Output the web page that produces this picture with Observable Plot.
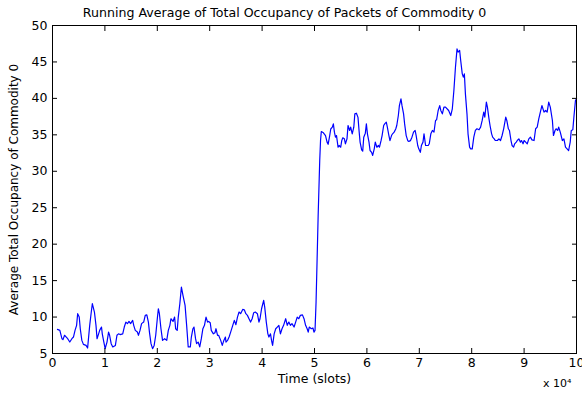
<!DOCTYPE html>
<html>
<head>
<meta charset="utf-8">
<script src="https://cdn.jsdelivr.net/npm/d3@7"></script>
<script src="https://cdn.jsdelivr.net/npm/@observablehq/plot@0.6"></script>
<style>
  html, body { margin: 0; padding: 0; background: #fff; }
</style>
</head>
<body>
<div id="chart"></div>
<script>
const title = "Running Average of Total Occupancy of Packets of Commodity 0";
const xLabel = "Time (slots)";
const yLabel = "Average Total Occupancy of Commodity 0";
const xExponent = "x 10\u2074";
const xTicks = [0, 1, 2, 3, 4, 5, 6, 7, 8, 9, 10];
const yTicks = [5, 10, 15, 20, 25, 30, 35, 40, 45, 50];

// time in units of 10^4 slots
const timeValues = [
  0.095, 0.14, 0.18, 0.20, 0.23, 0.25, 0.29, 0.33, 0.37, 0.40, 0.43, 0.46, 0.48, 0.51, 0.53, 0.56, 0.59, 0.64, 0.67, 0.71,
  0.74, 0.76, 0.80, 0.83, 0.85, 0.88, 0.90, 0.935, 0.95, 0.98, 1.005, 1.04, 1.07, 1.09, 1.12, 1.15, 1.20, 1.23, 1.26, 1.29,
  1.34, 1.37, 1.40, 1.43, 1.46, 1.49, 1.53, 1.55, 1.58, 1.62, 1.64, 1.67, 1.70, 1.74, 1.77, 1.80, 1.83, 1.85, 1.88, 1.91,
  1.94, 1.97, 2.00, 2.02, 2.04, 2.07, 2.10, 2.14, 2.18, 2.21, 2.24, 2.26, 2.30, 2.33, 2.35, 2.38, 2.40, 2.43, 2.46, 2.49,
  2.53, 2.56, 2.59, 2.63, 2.65, 2.68, 2.70, 2.73, 2.75, 2.78, 2.81, 2.84, 2.87, 2.90, 2.93, 2.96, 2.98, 3.01, 3.03, 3.07,
  3.10, 3.12, 3.15, 3.17, 3.21, 3.24, 3.27, 3.30, 3.31, 3.34, 3.37, 3.40, 3.44, 3.47, 3.50, 3.53, 3.56, 3.59, 3.63, 3.66,
  3.69, 3.72, 3.75, 3.78, 3.81, 3.84, 3.87, 3.91, 3.94, 3.96, 3.99, 4.03, 4.05, 4.08, 4.11, 4.13, 4.16, 4.18, 4.20, 4.23,
  4.26, 4.29, 4.32, 4.35, 4.38, 4.41, 4.45, 4.48, 4.51, 4.54, 4.57, 4.61, 4.64, 4.67, 4.70, 4.73, 4.77, 4.80, 4.83, 4.86,
  4.88, 4.90, 4.94, 4.97, 4.99, 5.01, 5.03, 5.05, 5.07, 5.09, 5.10, 5.115, 5.13, 5.17, 5.21, 5.24, 5.26, 5.29, 5.31, 5.34,
  5.36, 5.38, 5.40, 5.42, 5.45, 5.47, 5.50, 5.52, 5.54, 5.57, 5.59, 5.62, 5.64, 5.67, 5.69, 5.72, 5.75, 5.77, 5.80, 5.83,
  5.85, 5.87, 5.90, 5.92, 5.94, 5.97, 5.99, 6.01, 6.04, 6.06, 6.09, 6.11, 6.14, 6.16, 6.19, 6.22, 6.24, 6.27, 6.29, 6.32,
  6.34, 6.37, 6.39, 6.42, 6.44, 6.47, 6.49, 6.52, 6.55, 6.57, 6.60, 6.62, 6.65, 6.67, 6.70, 6.72, 6.75, 6.78, 6.80, 6.83,
  6.86, 6.89, 6.92, 6.94, 6.97, 6.99, 7.02, 7.04, 7.07, 7.09, 7.12, 7.14, 7.17, 7.19, 7.22, 7.25, 7.28, 7.31, 7.33, 7.36,
  7.39, 7.41, 7.44, 7.47, 7.50, 7.56, 7.60, 7.63, 7.66, 7.69, 7.72, 7.74, 7.77, 7.79, 7.82, 7.84, 7.86, 7.88, 7.91, 7.93,
  7.96, 7.98, 8.01, 8.04, 8.07, 8.10, 8.14, 8.17, 8.20, 8.23, 8.25, 8.28, 8.30, 8.33, 8.35, 8.38, 8.40, 8.43, 8.45, 8.49,
  8.52, 8.55, 8.58, 8.61, 8.65, 8.67, 8.70, 8.72, 8.75, 8.77, 8.80, 8.82, 8.85, 8.87, 8.90, 8.93, 8.95, 8.98, 9.00, 9.03,
  9.06, 9.09, 9.12, 9.15, 9.19, 9.22, 9.25, 9.28, 9.31, 9.34, 9.38, 9.41, 9.44, 9.47, 9.50, 9.54, 9.56, 9.59, 9.61, 9.64,
  9.66, 9.69, 9.73, 9.76, 9.79, 9.82, 9.85, 9.88, 9.90, 9.93, 9.95, 9.98, 10.0
];

const occupancyValues = [
  8.31, 8.17, 7.03, 6.9, 7.5, 7.35, 7.03, 6.57, 7.03, 7.26, 8.17, 8.86, 10.46, 10.0, 8.4, 6.8, 6.25, 6.11, 5.75, 8.86,
  10.69, 11.83, 10.69, 8.86, 7.03, 7.7, 8.17, 8.63, 7.7, 6.57, 5.66, 6.57, 7.94, 7.5, 6.35, 5.9, 6.11, 7.5, 7.7, 7.6,
  7.7, 8.63, 9.31, 9.1, 9.4, 9.1, 9.54, 8.86, 8.17, 7.94, 7.5, 8.17, 9.1, 9.31, 10.23, 10.3, 9.31, 7.94, 6.35, 5.66,
  6.11, 7.5, 9.77, 11.14, 10.46, 8.4, 6.8, 7.03, 6.8, 8.17, 8.86, 9.77, 9.4, 10.0, 8.4, 8.17, 10.0, 11.83, 14.1, 12.97,
  11.6, 8.86, 5.9, 5.9, 7.26, 8.4, 8.63, 7.03, 6.35, 6.57, 5.9, 7.03, 8.4, 8.86, 10.0, 9.31, 9.4, 9.22, 8.17, 7.7,
  7.85, 8.4, 7.5, 7.5, 6.8, 6.11, 6.8, 7.26, 6.57, 6.8, 7.26, 7.94, 8.86, 9.54, 8.95, 10.0, 10.69, 10.46, 11.05, 11.0,
  10.46, 10.23, 9.77, 9.31, 9.77, 10.6, 10.69, 10.46, 9.31, 9.77, 11.14, 12.29, 11.37, 9.31, 7.7, 7.26, 7.7, 6.8, 6.11, 7.7,
  8.4, 8.63, 8.86, 7.7, 8.4, 8.86, 9.77, 8.86, 9.31, 8.86, 9.1, 8.63, 9.31, 10.0, 9.77, 10.23, 10.3, 9.77, 8.86, 8.4,
  7.94, 8.63, 8.4, 8.5, 7.94, 8.17, 12.06, 18.0, 24.0, 29.0, 31.5, 34.2, 35.46, 35.28, 34.9, 34.0, 33.7, 34.9, 35.8, 36.05,
  36.5, 35.37, 34.68, 34.9, 33.3, 33.54, 33.3, 34.2, 34.6, 34.45, 33.77, 34.45, 36.28, 35.6, 36.05, 35.14, 36.05, 37.88, 37.97, 37.4,
  35.6, 34.0, 32.94, 32.76, 34.68, 35.23, 36.5, 35.14, 34.0, 32.85, 32.6, 32.17, 33.08, 34.0, 33.3, 33.54, 33.3, 34.2, 34.9, 36.28,
  36.5, 36.74, 36.05, 34.9, 34.2, 34.9, 35.14, 35.37, 35.8, 36.28, 37.65, 39.0, 39.94, 39.0, 37.88, 36.5, 34.9, 34.2, 34.1, 34.2,
  34.68, 35.37, 35.6, 34.9, 33.54, 33.08, 32.6, 33.54, 34.0, 35.14, 33.54, 33.54, 33.54, 33.77, 35.14, 35.6, 35.37, 36.97, 37.06, 38.34,
  39.0, 38.34, 37.88, 38.8, 38.8, 38.34, 37.65, 38.57, 41.08, 44.28, 46.8, 46.34, 46.57, 45.2, 43.37, 42.91, 43.37, 40.62, 37.88, 35.14,
  33.31, 33.08, 33.08, 34.68, 35.6, 35.83, 35.69, 36.05, 36.97, 38.11, 37.42, 39.48, 38.8, 37.2, 36.28, 35.14, 34.68, 34.45, 34.22, 34.22,
  34.45, 34.22, 34.91, 35.83, 37.42, 36.97, 35.83, 35.6, 34.22, 33.54, 33.31, 33.77, 34.0, 34.22, 34.45, 34.0, 34.22, 33.77, 34.22, 34.0,
  33.77, 34.45, 34.68, 34.31, 34.22, 35.83, 36.05, 37.2, 38.11, 39.02, 38.11, 38.34, 38.11, 39.48, 38.8, 36.97, 34.91, 35.6, 35.83, 35.6,
  36.05, 35.37, 34.22, 34.45, 33.31, 33.08, 32.85, 34.0, 35.6, 35.69, 37.42, 39.71, 39.94
];

const points = timeValues.map((t, i) => ({t, v: occupancyValues[i]}));

const font = "'DejaVu Sans', Verdana, sans-serif";

const chart = Plot.plot({
  width: 582,
  height: 394,
  marginLeft: 52,
  marginRight: 6,
  marginTop: 25,
  marginBottom: 41,
  style: {fontFamily: font, fontSize: "12px", background: "#fff", color: "#000", overflow: "visible"},
  x: {domain: [0, 10]},
  y: {domain: [5, 50]},
  marks: [
    Plot.line(points, {x: "t", y: "v", stroke: "#0000ff", strokeWidth: 1.2}),
    Plot.frame({stroke: "#000", strokeWidth: 1}),
    Plot.axisX(xTicks, {anchor: "bottom", tickSize: -5, tickPadding: 10, label: null, fontSize: 12.5}),
    Plot.axisX(xTicks, {anchor: "top", tickSize: -5, tickFormat: () => "", label: null}),
    Plot.axisY(yTicks, {anchor: "left", tickSize: -5, tickPadding: 10, label: null, fontSize: 12.5}),
    Plot.axisY(yTicks, {anchor: "right", tickSize: -5, tickFormat: () => "", label: null}),
    Plot.text([title], {frameAnchor: "top", dx: -30, dy: -13, lineAnchor: "middle", textAnchor: "middle", fontSize: 12.6, fill: "#000"}),
    Plot.text([xLabel], {frameAnchor: "bottom", dy: 25, lineAnchor: "middle", textAnchor: "middle", fontSize: 12.5, fill: "#000"}),
    Plot.text([yLabel], {frameAnchor: "left", dx: -38, rotate: -90, lineAnchor: "middle", textAnchor: "middle", fontSize: 12, fill: "#000"}),
    Plot.text([xExponent], {frameAnchor: "bottom-right", dx: -5, dy: 30, lineAnchor: "middle", textAnchor: "end", fontSize: 11, fill: "#000"})
  ]
});

document.getElementById("chart").appendChild(chart);
</script>
</body>
</html>
